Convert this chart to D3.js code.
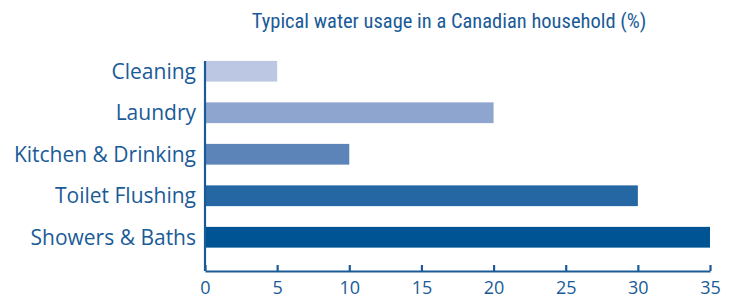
<!DOCTYPE html>
<html>
<head>
<meta charset="utf-8">
<script src="https://cdn.jsdelivr.net/npm/d3@7"></script>
<style>
  body { margin: 0; background: #fff; }
  svg { display: block; }
</style>
</head>
<body>
<svg id="chart" width="733" height="297"></svg>
<script>
const categories = ['Cleaning', 'Laundry', 'Kitchen & Drinking', 'Toilet Flushing', 'Showers & Baths'];
const values = [5, 20, 10, 30, 35];
const barColors = ['#bcc8e3', '#8ea6cf', '#5d84b9', '#2567a3', '#005494'];
const xTicks = [0, 5, 10, 15, 20, 25, 30, 35];
const title = 'Typical water usage in a Canadian household (%)';

const ink = '#1a5b97';
const plotLeft = 205, plotRight = 710, plotTop = 61, plotBottom = 271;

const svg = d3.select('#chart');

const x = d3.scaleLinear().domain([0, 35]).range([plotLeft, plotRight]);
const y = d3.scaleBand().domain(categories)
    .range([plotTop - 10.5, plotTop - 10.5 + 41.5 * 5])
    .paddingInner(0.5).paddingOuter(0.25);

// title
svg.append('text')
    .attr('x', 449)
    .attr('y', 28)
    .attr('text-anchor', 'middle')
    .style('font-family', '"Liberation Sans Narrow", "Roboto Condensed", sans-serif')
    .style('font-size', '20.5px')
    .style('fill', ink)
    .text(title);

// bars
svg.selectAll('rect.bar')
    .data(categories)
    .enter().append('rect')
    .attr('class', 'bar')
    .attr('x', x(0))
    .attr('y', d => y(d))
    .attr('height', y.bandwidth())
    .attr('width', (d, i) => x(values[i]) - x(0))
    .style('fill', (d, i) => barColors[i]);

// category labels
svg.selectAll('text.cat')
    .data(categories)
    .enter().append('text')
    .attr('class', 'cat')
    .attr('x', plotLeft - 9)
    .attr('y', d => y(d) + y.bandwidth() / 2)
    .attr('dy', '0.36em')
    .attr('text-anchor', 'end')
    .style('font-family', '"Open Sans", sans-serif')
    .style('font-size', '21px')
    .style('fill', ink)
    .text(d => d);

// x axis
const xAxis = d3.axisBottom(x).tickValues(xTicks).tickSizeInner(-6).tickSizeOuter(0).tickPadding(10);
const gx = svg.append('g').attr('transform', `translate(0,${plotBottom})`).call(xAxis);
gx.select('.domain').attr('stroke', ink).attr('stroke-width', 2.2);
gx.selectAll('.tick line').attr('stroke', ink).attr('stroke-width', 2.2);
gx.selectAll('.tick text')
    .style('font-family', '"Open Sans", sans-serif')
    .style('font-size', '18px')
    .style('fill', ink);

// y axis line
svg.append('line')
    .attr('x1', plotLeft).attr('x2', plotLeft)
    .attr('y1', plotTop).attr('y2', plotBottom)
    .attr('stroke', ink)
    .attr('stroke-width', 2.2);
</script>
</body>
</html>
